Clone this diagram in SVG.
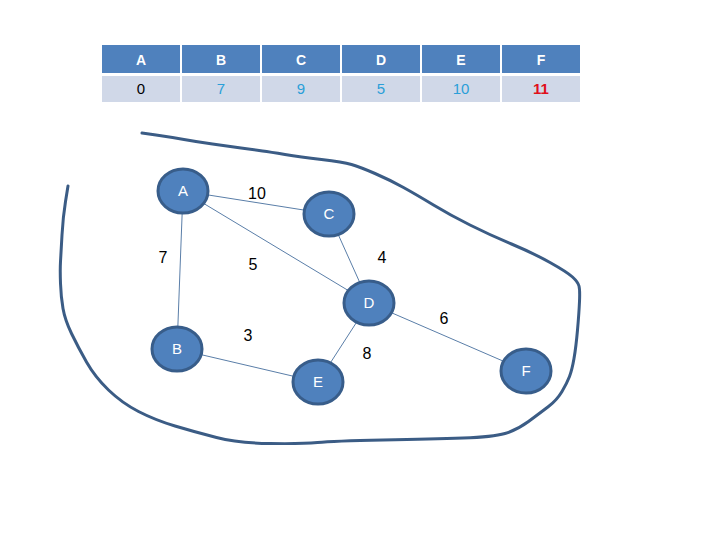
<svg xmlns="http://www.w3.org/2000/svg" width="720" height="540" viewBox="0 0 720 540">
<style>
.hd{fill:#4F81BD}
.dt{fill:#D0D8E8}
.ht{font-family:"Liberation Sans",Arial,sans-serif;font-size:14px;font-weight:bold;fill:#fff;text-anchor:middle}
.vt{font-family:"Liberation Sans",Arial,sans-serif;font-size:15px;text-anchor:middle}
.node ellipse{fill:#4F81BD;stroke:#385D8A;stroke-width:3}
.node text{font-family:"Liberation Sans",Arial,sans-serif;font-size:15px;fill:#fff;text-anchor:middle}
.edge{stroke:#5A7EA8;stroke-width:1}
.lbl{font-family:"Liberation Sans",Arial,sans-serif;font-size:16px;fill:#000;text-anchor:middle}
.outline{fill:none;stroke:#3B5C85;stroke-width:3;stroke-linejoin:round;stroke-linecap:round}
</style>
<rect width="720" height="540" fill="#fff"/>
<g id="table">
<rect class="hd" x="102" y="45" width="78" height="28"/>
<rect class="hd" x="182" y="45" width="78" height="28"/>
<rect class="hd" x="262" y="45" width="78" height="28"/>
<rect class="hd" x="342" y="45" width="78" height="28"/>
<rect class="hd" x="422" y="45" width="78" height="28"/>
<rect class="hd" x="502" y="45" width="78" height="28"/>
<rect class="dt" x="102" y="76" width="78" height="26"/>
<rect class="dt" x="182" y="76" width="78" height="26"/>
<rect class="dt" x="262" y="76" width="78" height="26"/>
<rect class="dt" x="342" y="76" width="78" height="26"/>
<rect class="dt" x="422" y="76" width="78" height="26"/>
<rect class="dt" x="502" y="76" width="78" height="26"/>
<text class="ht" x="141" y="65">A</text>
<text class="ht" x="221" y="65">B</text>
<text class="ht" x="301" y="65">C</text>
<text class="ht" x="381" y="65">D</text>
<text class="ht" x="461" y="65">E</text>
<text class="ht" x="541" y="65">F</text>
<text class="vt" x="141" y="94" fill="#000">0</text>
<text class="vt" x="221" y="94" fill="#2A9FD8">7</text>
<text class="vt" x="301" y="94" fill="#2A9FD8">9</text>
<text class="vt" x="381" y="94" fill="#2A9FD8">5</text>
<text class="vt" x="461" y="94" fill="#2A9FD8">10</text>
<text class="vt" x="541" y="94" fill="#E0101A" font-weight="bold">11</text>
</g>
<path class="outline" d="M142,133 L156,135 Q170,137 184,139.5 Q198,142 212.5,144 Q227,146 241,148 Q255,150 262.5,151 Q270,152 285,154.5 Q300,157 321.5,159.5 Q343,162 351.5,164.5 Q360,167 375,173.5 Q390,180 403.5,187.5 Q417,195 433.5,205 Q450,215 470,225 Q490,235 511.5,244 Q533,253 550,262.5 Q567,272 572.5,277 Q578,282 579,286 Q580,290 579.5,301.5 Q579,313 577.5,330 Q576,347 574,358.5 Q572,370 569.5,376.5 Q567,383 562,391.5 Q557,400 548.5,406.5 Q540,413 528.5,421.5 Q517,430 505,433.5 Q493,437 463,438 Q433,439 383,440 Q333,441 317.5,442.5 Q302,444 270,443.5 Q238,443 216.5,437.5 Q195,432 175,426 Q155,420 138.5,411.5 Q122,403 108.5,390 Q95,377 86.5,362 Q78,347 71.5,333.5 Q65,320 63,308.5 Q61,297 60.5,283.5 Q60,270 60.5,261.5 Q61,253 62,235 Q63,217 65.5,201.5 L68,186"/>
<g id="connectors">
<line class="edge" x1="183" y1="191" x2="329" y2="214"/>
<line class="edge" x1="183" y1="191" x2="369" y2="303"/>
<line class="edge" x1="183" y1="191" x2="177" y2="349"/>
<line class="edge" x1="329" y1="214" x2="369" y2="303"/>
<line class="edge" x1="177" y1="349" x2="318" y2="382"/>
<line class="edge" x1="369" y1="303" x2="318" y2="382"/>
<line class="edge" x1="369" y1="303" x2="526" y2="371"/>
<text class="lbl" x="257" y="199">10</text>
<text class="lbl" x="163" y="263">7</text>
<text class="lbl" x="253" y="270">5</text>
<text class="lbl" x="382" y="263">4</text>
<text class="lbl" x="248" y="341">3</text>
<text class="lbl" x="444" y="324">6</text>
<text class="lbl" x="367" y="359">8</text>
</g>
<g id="A" class="node"><ellipse cx="183" cy="191" rx="25" ry="22"/><text x="183" y="196">A</text></g>
<g id="C" class="node"><ellipse cx="329" cy="214" rx="25" ry="22"/><text x="329" y="219">C</text></g>
<g id="D" class="node"><ellipse cx="369" cy="303" rx="25" ry="22"/><text x="369" y="308">D</text></g>
<g id="B" class="node"><ellipse cx="177" cy="349" rx="25" ry="22"/><text x="177" y="354">B</text></g>
<g id="E" class="node"><ellipse cx="318" cy="382" rx="25" ry="22"/><text x="318" y="387">E</text></g>
<g id="F" class="node"><ellipse cx="526" cy="371" rx="25" ry="22"/><text x="526" y="376">F</text></g>
</svg>
